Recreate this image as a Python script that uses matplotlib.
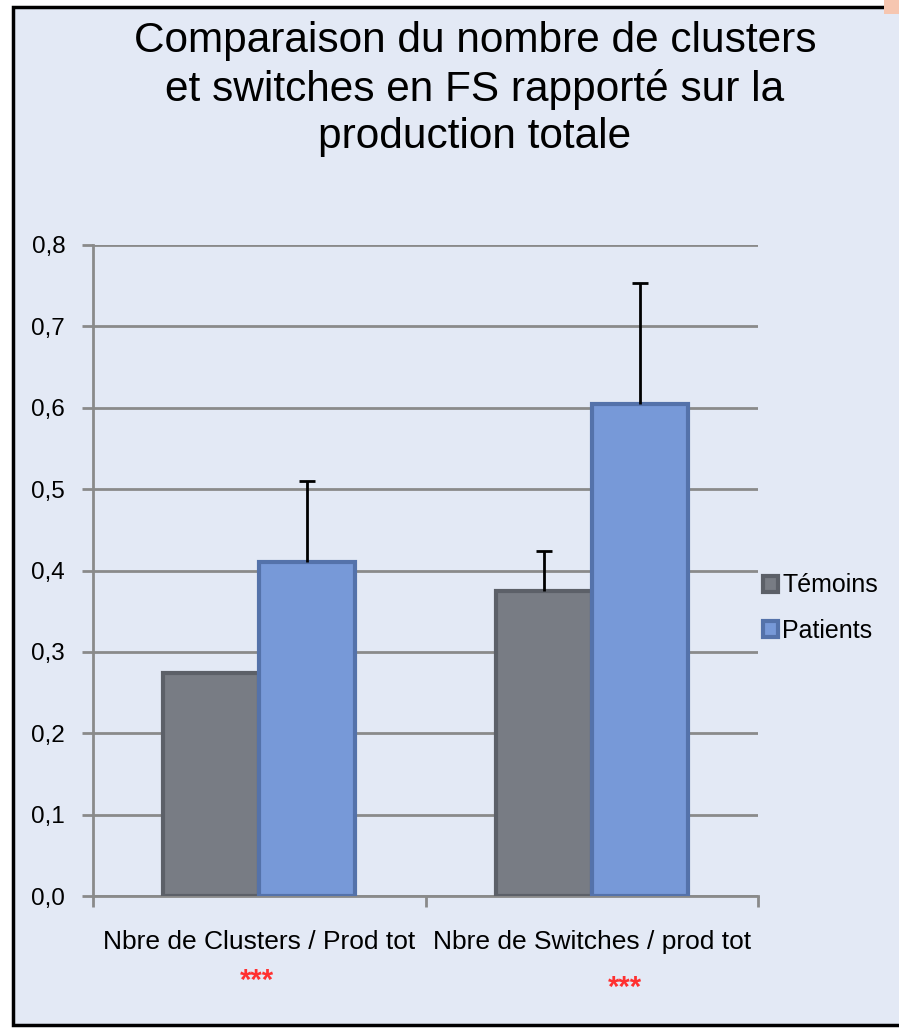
import matplotlib
matplotlib.use("Agg")
import matplotlib.pyplot as plt
from matplotlib.patches import Rectangle
import numpy as np

plt.rcParams['font.family'] = ['Liberation Sans', 'DejaVu Sans']

categories = ["Nbre de Clusters / Prod tot", "Nbre de Switches / prod tot"]
series_names = ["Témoins", "Patients"]
temoins = [0.274, 0.375]
patients = [0.411, 0.604]
temoins_err = [0.0, 0.049]
patients_err = [0.099, 0.149]
yticks = [0.0, 0.1, 0.2, 0.3, 0.4, 0.5, 0.6, 0.7, 0.8]
ytick_labels = ["0,0", "0,1", "0,2", "0,3", "0,4", "0,5", "0,6", "0,7", "0,8"]
significance = ["***", "***"]

W, H = 899, 1029
fig = plt.figure(figsize=(W/100, H/100), dpi=100)
fig.patch.set_facecolor("white")
bg = "#E3E9F5"
fig.patches.append(Rectangle((13/W, 4/H), (W+5-13)/W, (1029-4-7)/H, transform=fig.transFigure,
                             facecolor=bg, edgecolor="black", linewidth=2.5, zorder=0))
fig.patches.append(Rectangle((884/W, 1-14/H), 15/W, 14/H, transform=fig.transFigure,
                             facecolor="#F6C6B0", edgecolor="none", zorder=1))

ax = fig.add_axes([93/W, 1-896/H, (758-93)/W, (896-245)/H])
ax.set_zorder(5)
ax.set_facecolor("none")

x = np.arange(len(categories))
bw = 0.288
col_t, edge_t = "#787C84", "#5C6068"
col_p, edge_p = "#7799D8", "#5472AA"
ax.bar(x - bw/2, temoins, bw, color=col_t, edgecolor=edge_t, linewidth=3, label=series_names[0], zorder=3)
ax.bar(x + bw/2, patients, bw, color=col_p, edgecolor=edge_p, linewidth=3, label=series_names[1], zorder=3)


def up_err(xs, vals, errs):
    for xi, v, e in zip(xs, vals, errs):
        if e <= 0:
            continue
        _, caps, _ = ax.errorbar(xi, v, yerr=[[0], [e]], fmt="none", ecolor="black",
                                 elinewidth=2, capsize=6, capthick=2, zorder=4)
        for c in caps:
            yd = np.asarray(c.get_ydata(), dtype=float)
            if np.allclose(yd, v):
                c.set_visible(False)


up_err(x - bw/2, temoins, temoins_err)
up_err(x + bw/2, patients, patients_err)

ax.set_xlim(-0.5, 1.5)
ax.set_ylim(0, 0.8)
ax.set_yticks(yticks)
ax.set_yticklabels(ytick_labels, fontsize=17.5)
ax.yaxis.grid(True, color="#8a8a8a", linewidth=2, zorder=0)
ax.set_axisbelow(True)
for s in ["top", "right"]:
    ax.spines[s].set_visible(False)
for s in ["left", "bottom"]:
    ax.spines[s].set_color("#8a8a8a")
    ax.spines[s].set_linewidth(2)
ax.tick_params(axis="y", length=8, width=2, color="#8a8a8a", pad=12)
ax.set_xticks([-0.5, 0.5, 1.5])
ax.set_xticklabels([])
ax.tick_params(axis="x", length=8, width=2, color="#8a8a8a")
for xi, lab in zip(x, categories):
    ax.text(xi, -0.056, lab, ha="center", va="center", fontsize=19, transform=ax.transData)

fig.text(257/W, 1-981/H, significance[0], color="#FF3030", fontsize=21, fontweight="bold", ha="center", va="center")
fig.text(625/W, 1-988/H, significance[1], color="#FF3030", fontsize=21, fontweight="bold", ha="center", va="center")

fig.text(475/W, 1-89/H, "Comparaison du nombre de clusters\net switches en FS rapporté sur la\nproduction totale",
         ha="center", va="center", fontsize=30.5, linespacing=1.24)

leg = fig.legend(loc="center left", bbox_to_anchor=(740/W, 1-608/H), frameon=False, fontsize=18,
                 handlelength=0.6, handleheight=0.6, handletextpad=0.2, labelspacing=0.85)

fig.savefig("out.png", dpi=100)
